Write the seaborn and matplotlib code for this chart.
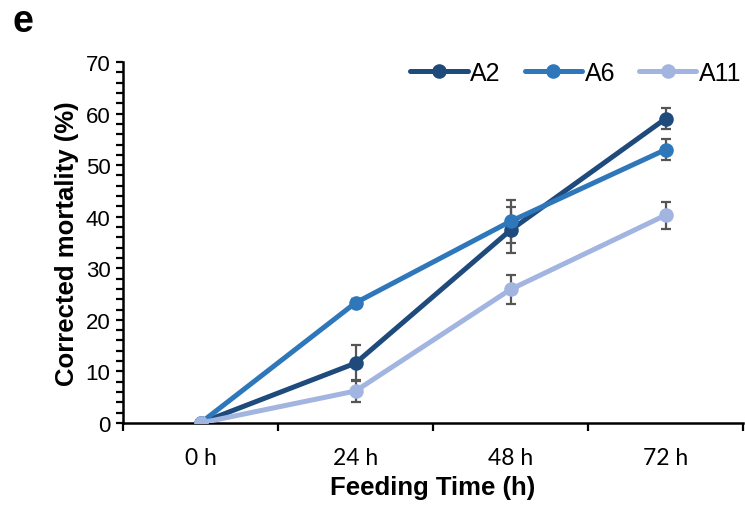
import matplotlib
matplotlib.use("Agg")
import matplotlib.pyplot as plt
import seaborn as sns
import pandas as pd
import numpy as np
from matplotlib.ticker import MultipleLocator, FixedLocator, NullFormatter
from matplotlib.lines import Line2D

# ---- data ----
time_labels = ["0 h", "24 h", "48 h", "72 h"]
series_names = ["A2", "A6", "A11"]
a2_mean = [0, 11.6, 37.4, 59.0]
a2_err = [0, 3.5, 4.5, 2.0]
a6_mean = [0, 23.3, 39.1, 53.0]
a6_err = [0, 0.7, 4.2, 2.0]
a11_mean = [0, 6.2, 25.9, 40.3]
a11_err = [0, 2.2, 2.8, 2.6]
colors = ["#1f4a7c", "#2e77ba", "#a2b5e0"]

means = [a2_mean, a6_mean, a11_mean]
errs = [a2_err, a6_err, a11_err]

rows = []
for name, m, e in zip(series_names, means, errs):
    for i, (mv, ev) in enumerate(zip(m, e)):
        rows.append({"Strain": name, "pos": i, "Time": time_labels[i], "mean": mv, "err": ev})
df = pd.DataFrame(rows)

sns.set_theme(style="white")
plt.rcParams["font.family"] = ["Liberation Sans", "DejaVu Sans"]
plt.rcParams["text.color"] = "black"
plt.rcParams["axes.labelcolor"] = "black"
plt.rcParams["xtick.color"] = "black"
plt.rcParams["ytick.color"] = "black"

fig = plt.figure(figsize=(7.45, 5.10), dpi=100)
ax = fig.add_axes([123/745, 1 - 424/510, (743 - 123)/745, (424 - 63)/510])

# error bars (behind)
for name in series_names:
    sub = df[df["Strain"] == name]
    mask = sub["err"] > 0
    ax.errorbar(sub["pos"][mask], sub["mean"][mask], yerr=sub["err"][mask],
                fmt="none", ecolor="#555555", elinewidth=1.6, capsize=3.8,
                capthick=1.6, zorder=1)

sns.lineplot(data=df, x="pos", y="mean", hue="Strain", hue_order=series_names,
             palette=colors, marker="o", markersize=10.5, markeredgewidth=0,
             linewidth=3.6, ax=ax, zorder=3, legend=False, errorbar=None)

ax.set_xlim(-0.5, 3.5)
ax.set_ylim(0, 70)

# x ticks: labels at centres, tick marks at category boundaries
ax.xaxis.set_major_locator(FixedLocator(range(len(time_labels))))
ax.set_xticklabels(time_labels, fontsize=16.5, fontfamily="Lato")
ax.xaxis.set_minor_locator(FixedLocator(np.arange(-0.5, len(time_labels), 1.0)))
ax.xaxis.set_minor_formatter(NullFormatter())
ax.tick_params(axis="x", which="major", length=0, pad=17)
ax.tick_params(axis="x", which="minor", length=6, width=1.6, direction="out",
               bottom=True, color="black")

ax.yaxis.set_major_locator(MultipleLocator(10))
ax.yaxis.set_minor_locator(MultipleLocator(2))
ax.tick_params(axis="y", which="both", length=5, width=1.6, direction="out",
               left=True, color="black", labelsize=16, pad=4)

for s in ["top", "right"]:
    ax.spines[s].set_visible(False)
for s in ["left", "bottom"]:
    ax.spines[s].set_color("black")
    ax.spines[s].set_linewidth(1.8)

ax.set_xlabel("Feeding Time (h)", fontsize=18.5, fontweight="bold", labelpad=5)
ax.set_ylabel("Corrected mortality (%)", fontsize=18.5, fontweight="bold", labelpad=5)

handles = [Line2D([], [], color=c, linewidth=3.6, marker="o", markersize=10.5,
                  markeredgewidth=0) for c in colors]
fig.legend(handles, series_names, loc="center right", bbox_to_anchor=(0.995, 1 - 74/510),
           ncol=3, frameon=False, fontsize=18, handlelength=2.3,
           handletextpad=0.1, columnspacing=0.95, borderpad=0, borderaxespad=0)

fig.text(12/745, 1 - 4/510, "e", fontsize=27, fontweight="bold", va="top", ha="left")

fig.savefig("out.png", dpi=100)
